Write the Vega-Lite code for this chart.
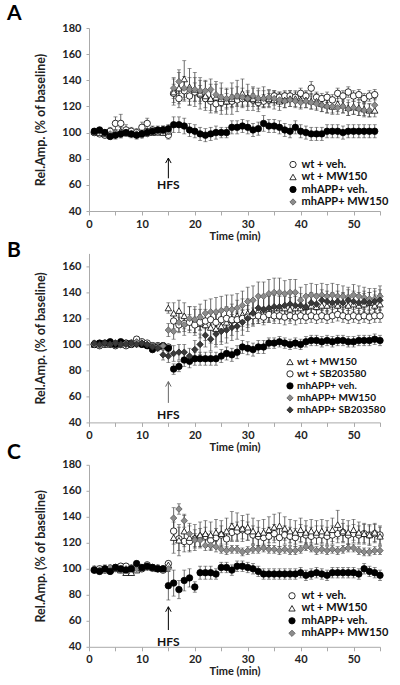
{
"$schema":"https://vega.github.io/schema/vega-lite/v6.json",
"background":"white",
"padding":{"left":7,"top":3,"right":0,"bottom":0},
"config":{
 "font":"Lato",
 "view":{"stroke":null},
 "axis":{"grid":false,"domainColor":"#aaaaaa","tickColor":"#aaaaaa","labelColor":"#222222","titleColor":"#222222","labelFont":"Lato","titleFont":"Lato","labelFontWeight":"bold","titleFontWeight":"bold","labelFontSize":11,"titleFontSize":12.5,"labelOverlap":false},
 "axisX":{"tickSize":4,"labelPadding":3,"titlePadding":1,"labelFlush":false,"titleFontSize":11},
 "axisY":{"tickSize":3,"labelPadding":5,"titlePadding":14},
 "legend":{"labelFont":"Lato","labelFontWeight":"bold","labelColor":"#111111","symbolSize":40,"symbolStrokeWidth":0.8,"labelOffset":3,"padding":0},
 "title":{"font":"Lato","fontSize":21,"fontWeight":"bold","anchor":"start","frame":"group","color":"#000000","offset":4}
},
"datasets":{
"dA":[
{"s":"wt + veh.","t":1,"v":100,"e":2},{"s":"wt + veh.","t":2,"v":99,"e":2},{"s":"wt + veh.","t":3,"v":98,"e":2},{"s":"wt + veh.","t":4,"v":101,"e":3},{"s":"wt + veh.","t":5,"v":107,"e":5},{"s":"wt + veh.","t":6,"v":107,"e":7},{"s":"wt + veh.","t":7,"v":102,"e":4},{"s":"wt + veh.","t":8,"v":101,"e":3},{"s":"wt + veh.","t":9,"v":100,"e":3},{"s":"wt + veh.","t":10,"v":104,"e":4},{"s":"wt + veh.","t":11,"v":107,"e":4},{"s":"wt + veh.","t":12,"v":102,"e":3},{"s":"wt + veh.","t":13,"v":101,"e":3},{"s":"wt + veh.","t":14,"v":102,"e":3},{"s":"wt + veh.","t":15,"v":98,"e":3},{"s":"wt + veh.","t":16,"v":130,"e":7},{"s":"wt + veh.","t":17,"v":126,"e":7},{"s":"wt + veh.","t":18,"v":132,"e":8},{"s":"wt + veh.","t":19,"v":128,"e":7},{"s":"wt + veh.","t":20,"v":131,"e":7},{"s":"wt + veh.","t":21,"v":129,"e":7},{"s":"wt + veh.","t":22,"v":126,"e":7},{"s":"wt + veh.","t":23,"v":124,"e":7},{"s":"wt + veh.","t":24,"v":122,"e":6},{"s":"wt + veh.","t":25,"v":123,"e":6},{"s":"wt + veh.","t":26,"v":124,"e":6},{"s":"wt + veh.","t":27,"v":124,"e":5},{"s":"wt + veh.","t":28,"v":125,"e":5},{"s":"wt + veh.","t":29,"v":126,"e":5},{"s":"wt + veh.","t":30,"v":126,"e":5},{"s":"wt + veh.","t":31,"v":125,"e":5},{"s":"wt + veh.","t":32,"v":123,"e":5},{"s":"wt + veh.","t":33,"v":124,"e":5},{"s":"wt + veh.","t":34,"v":125,"e":5},{"s":"wt + veh.","t":35,"v":128,"e":4},{"s":"wt + veh.","t":36,"v":127,"e":4},{"s":"wt + veh.","t":37,"v":128,"e":4},{"s":"wt + veh.","t":38,"v":128,"e":4},{"s":"wt + veh.","t":39,"v":127,"e":4},{"s":"wt + veh.","t":40,"v":130,"e":4},{"s":"wt + veh.","t":41,"v":128,"e":4},{"s":"wt + veh.","t":42,"v":134,"e":5},{"s":"wt + veh.","t":43,"v":127,"e":4},{"s":"wt + veh.","t":44,"v":126,"e":4},{"s":"wt + veh.","t":45,"v":127,"e":4},{"s":"wt + veh.","t":46,"v":125,"e":4},{"s":"wt + veh.","t":47,"v":130,"e":4},{"s":"wt + veh.","t":48,"v":128,"e":4},{"s":"wt + veh.","t":49,"v":131,"e":4},{"s":"wt + veh.","t":50,"v":128,"e":4},{"s":"wt + veh.","t":51,"v":129,"e":4},{"s":"wt + veh.","t":52,"v":126,"e":4},{"s":"wt + veh.","t":53,"v":128,"e":4},{"s":"wt + veh.","t":54,"v":129,"e":4},
{"s":"wt + MW150","t":1,"v":101,"e":2},{"s":"wt + MW150","t":2,"v":100,"e":2},{"s":"wt + MW150","t":3,"v":99,"e":2},{"s":"wt + MW150","t":4,"v":98,"e":2},{"s":"wt + MW150","t":5,"v":100,"e":2},{"s":"wt + MW150","t":6,"v":101,"e":3},{"s":"wt + MW150","t":7,"v":100,"e":2},{"s":"wt + MW150","t":8,"v":99,"e":2},{"s":"wt + MW150","t":9,"v":99,"e":2},{"s":"wt + MW150","t":10,"v":100,"e":2},{"s":"wt + MW150","t":11,"v":101,"e":2},{"s":"wt + MW150","t":12,"v":100,"e":2},{"s":"wt + MW150","t":13,"v":101,"e":2},{"s":"wt + MW150","t":14,"v":100,"e":2},{"s":"wt + MW150","t":15,"v":101,"e":2},{"s":"wt + MW150","t":16,"v":131,"e":10},{"s":"wt + MW150","t":17,"v":134,"e":12},{"s":"wt + MW150","t":18,"v":141,"e":14},{"s":"wt + MW150","t":19,"v":135,"e":14},{"s":"wt + MW150","t":20,"v":133,"e":13},{"s":"wt + MW150","t":21,"v":130,"e":12},{"s":"wt + MW150","t":22,"v":128,"e":11},{"s":"wt + MW150","t":23,"v":126,"e":11},{"s":"wt + MW150","t":24,"v":127,"e":12},{"s":"wt + MW150","t":25,"v":126,"e":12},{"s":"wt + MW150","t":26,"v":124,"e":10},{"s":"wt + MW150","t":27,"v":126,"e":12},{"s":"wt + MW150","t":28,"v":128,"e":12},{"s":"wt + MW150","t":29,"v":130,"e":11},{"s":"wt + MW150","t":30,"v":127,"e":10},{"s":"wt + MW150","t":31,"v":126,"e":9},{"s":"wt + MW150","t":32,"v":125,"e":9},{"s":"wt + MW150","t":33,"v":127,"e":8},{"s":"wt + MW150","t":34,"v":126,"e":7},{"s":"wt + MW150","t":35,"v":125,"e":7},{"s":"wt + MW150","t":36,"v":124,"e":7},{"s":"wt + MW150","t":37,"v":125,"e":6},{"s":"wt + MW150","t":38,"v":126,"e":6},{"s":"wt + MW150","t":39,"v":126,"e":6},{"s":"wt + MW150","t":40,"v":125,"e":6},{"s":"wt + MW150","t":41,"v":125,"e":6},{"s":"wt + MW150","t":42,"v":124,"e":6},{"s":"wt + MW150","t":43,"v":124,"e":6},{"s":"wt + MW150","t":44,"v":122,"e":6},{"s":"wt + MW150","t":45,"v":121,"e":6},{"s":"wt + MW150","t":46,"v":120,"e":6},{"s":"wt + MW150","t":47,"v":122,"e":6},{"s":"wt + MW150","t":48,"v":121,"e":6},{"s":"wt + MW150","t":49,"v":119,"e":6},{"s":"wt + MW150","t":50,"v":120,"e":6},{"s":"wt + MW150","t":51,"v":119,"e":6},{"s":"wt + MW150","t":52,"v":118,"e":5},{"s":"wt + MW150","t":53,"v":117,"e":5},{"s":"wt + MW150","t":54,"v":117,"e":5},
{"s":"mhAPP+ MW150","t":1,"v":100,"e":2},{"s":"mhAPP+ MW150","t":2,"v":101,"e":2},{"s":"mhAPP+ MW150","t":3,"v":100,"e":2},{"s":"mhAPP+ MW150","t":4,"v":99,"e":2},{"s":"mhAPP+ MW150","t":5,"v":100,"e":2},{"s":"mhAPP+ MW150","t":6,"v":99,"e":3},{"s":"mhAPP+ MW150","t":7,"v":100,"e":2},{"s":"mhAPP+ MW150","t":8,"v":99,"e":2},{"s":"mhAPP+ MW150","t":9,"v":99,"e":2},{"s":"mhAPP+ MW150","t":10,"v":98,"e":2},{"s":"mhAPP+ MW150","t":11,"v":99,"e":2},{"s":"mhAPP+ MW150","t":12,"v":100,"e":2},{"s":"mhAPP+ MW150","t":13,"v":100,"e":2},{"s":"mhAPP+ MW150","t":14,"v":101,"e":2},{"s":"mhAPP+ MW150","t":15,"v":101,"e":2},{"s":"mhAPP+ MW150","t":16,"v":134,"e":8},{"s":"mhAPP+ MW150","t":17,"v":139,"e":9},{"s":"mhAPP+ MW150","t":18,"v":134,"e":9},{"s":"mhAPP+ MW150","t":19,"v":133,"e":9},{"s":"mhAPP+ MW150","t":20,"v":133,"e":9},{"s":"mhAPP+ MW150","t":21,"v":132,"e":8},{"s":"mhAPP+ MW150","t":22,"v":132,"e":8},{"s":"mhAPP+ MW150","t":23,"v":133,"e":8},{"s":"mhAPP+ MW150","t":24,"v":129,"e":8},{"s":"mhAPP+ MW150","t":25,"v":127,"e":7},{"s":"mhAPP+ MW150","t":26,"v":126,"e":7},{"s":"mhAPP+ MW150","t":27,"v":127,"e":7},{"s":"mhAPP+ MW150","t":28,"v":128,"e":7},{"s":"mhAPP+ MW150","t":29,"v":127,"e":7},{"s":"mhAPP+ MW150","t":30,"v":126,"e":6},{"s":"mhAPP+ MW150","t":31,"v":128,"e":6},{"s":"mhAPP+ MW150","t":32,"v":126,"e":6},{"s":"mhAPP+ MW150","t":33,"v":126,"e":6},{"s":"mhAPP+ MW150","t":34,"v":127,"e":5},{"s":"mhAPP+ MW150","t":35,"v":126,"e":5},{"s":"mhAPP+ MW150","t":36,"v":125,"e":5},{"s":"mhAPP+ MW150","t":37,"v":124,"e":5},{"s":"mhAPP+ MW150","t":38,"v":125,"e":5},{"s":"mhAPP+ MW150","t":39,"v":124,"e":5},{"s":"mhAPP+ MW150","t":40,"v":123,"e":5},{"s":"mhAPP+ MW150","t":41,"v":124,"e":5},{"s":"mhAPP+ MW150","t":42,"v":123,"e":5},{"s":"mhAPP+ MW150","t":43,"v":122,"e":5},{"s":"mhAPP+ MW150","t":44,"v":121,"e":5},{"s":"mhAPP+ MW150","t":45,"v":120,"e":5},{"s":"mhAPP+ MW150","t":46,"v":120,"e":5},{"s":"mhAPP+ MW150","t":47,"v":119,"e":5},{"s":"mhAPP+ MW150","t":48,"v":120,"e":5},{"s":"mhAPP+ MW150","t":49,"v":118,"e":5},{"s":"mhAPP+ MW150","t":50,"v":119,"e":5},{"s":"mhAPP+ MW150","t":51,"v":118,"e":5},{"s":"mhAPP+ MW150","t":52,"v":117,"e":5},{"s":"mhAPP+ MW150","t":53,"v":117,"e":5},{"s":"mhAPP+ MW150","t":54,"v":121,"e":5},
{"s":"mhAPP+ veh.","t":1,"v":101,"e":2},{"s":"mhAPP+ veh.","t":2,"v":102,"e":2},{"s":"mhAPP+ veh.","t":3,"v":100,"e":2},{"s":"mhAPP+ veh.","t":4,"v":97,"e":2},{"s":"mhAPP+ veh.","t":5,"v":98,"e":3},{"s":"mhAPP+ veh.","t":6,"v":99,"e":3},{"s":"mhAPP+ veh.","t":7,"v":100,"e":3},{"s":"mhAPP+ veh.","t":8,"v":99,"e":3},{"s":"mhAPP+ veh.","t":9,"v":98,"e":3},{"s":"mhAPP+ veh.","t":10,"v":99,"e":3},{"s":"mhAPP+ veh.","t":11,"v":100,"e":3},{"s":"mhAPP+ veh.","t":12,"v":101,"e":3},{"s":"mhAPP+ veh.","t":13,"v":102,"e":3},{"s":"mhAPP+ veh.","t":14,"v":102,"e":3},{"s":"mhAPP+ veh.","t":15,"v":103,"e":3},{"s":"mhAPP+ veh.","t":16,"v":106,"e":6},{"s":"mhAPP+ veh.","t":17,"v":106,"e":6},{"s":"mhAPP+ veh.","t":18,"v":105,"e":6},{"s":"mhAPP+ veh.","t":19,"v":102,"e":5},{"s":"mhAPP+ veh.","t":20,"v":101,"e":5},{"s":"mhAPP+ veh.","t":21,"v":99,"e":5},{"s":"mhAPP+ veh.","t":22,"v":98,"e":5},{"s":"mhAPP+ veh.","t":23,"v":99,"e":5},{"s":"mhAPP+ veh.","t":24,"v":100,"e":5},{"s":"mhAPP+ veh.","t":25,"v":100,"e":4},{"s":"mhAPP+ veh.","t":26,"v":100,"e":4},{"s":"mhAPP+ veh.","t":27,"v":104,"e":5},{"s":"mhAPP+ veh.","t":28,"v":104,"e":5},{"s":"mhAPP+ veh.","t":29,"v":105,"e":5},{"s":"mhAPP+ veh.","t":30,"v":104,"e":5},{"s":"mhAPP+ veh.","t":31,"v":102,"e":5},{"s":"mhAPP+ veh.","t":32,"v":103,"e":5},{"s":"mhAPP+ veh.","t":33,"v":107,"e":6},{"s":"mhAPP+ veh.","t":34,"v":105,"e":5},{"s":"mhAPP+ veh.","t":35,"v":105,"e":5},{"s":"mhAPP+ veh.","t":36,"v":104,"e":5},{"s":"mhAPP+ veh.","t":37,"v":102,"e":5},{"s":"mhAPP+ veh.","t":38,"v":101,"e":5},{"s":"mhAPP+ veh.","t":39,"v":104,"e":5},{"s":"mhAPP+ veh.","t":40,"v":101,"e":5},{"s":"mhAPP+ veh.","t":41,"v":100,"e":5},{"s":"mhAPP+ veh.","t":42,"v":99,"e":5},{"s":"mhAPP+ veh.","t":43,"v":99,"e":5},{"s":"mhAPP+ veh.","t":44,"v":99,"e":5},{"s":"mhAPP+ veh.","t":45,"v":101,"e":5},{"s":"mhAPP+ veh.","t":46,"v":101,"e":5},{"s":"mhAPP+ veh.","t":47,"v":101,"e":5},{"s":"mhAPP+ veh.","t":48,"v":100,"e":5},{"s":"mhAPP+ veh.","t":49,"v":101,"e":5},{"s":"mhAPP+ veh.","t":50,"v":101,"e":5},{"s":"mhAPP+ veh.","t":51,"v":101,"e":5},{"s":"mhAPP+ veh.","t":52,"v":101,"e":5},{"s":"mhAPP+ veh.","t":53,"v":101,"e":5},{"s":"mhAPP+ veh.","t":54,"v":101,"e":5}
],
"dB":[
{"s":"wt + MW150","t":1,"v":100,"e":2},{"s":"wt + MW150","t":2,"v":101,"e":2},{"s":"wt + MW150","t":3,"v":100,"e":2},{"s":"wt + MW150","t":4,"v":101,"e":2},{"s":"wt + MW150","t":5,"v":100,"e":2},{"s":"wt + MW150","t":6,"v":101,"e":2},{"s":"wt + MW150","t":7,"v":100,"e":2},{"s":"wt + MW150","t":8,"v":101,"e":2},{"s":"wt + MW150","t":9,"v":102,"e":2},{"s":"wt + MW150","t":10,"v":101,"e":2},{"s":"wt + MW150","t":11,"v":100,"e":2},{"s":"wt + MW150","t":12,"v":99,"e":2},{"s":"wt + MW150","t":13,"v":99,"e":2},{"s":"wt + MW150","t":14,"v":99,"e":2},{"s":"wt + MW150","t":15,"v":128,"e":4},{"s":"wt + MW150","t":16,"v":124,"e":8},{"s":"wt + MW150","t":17,"v":126,"e":8},{"s":"wt + MW150","t":18,"v":122,"e":10},{"s":"wt + MW150","t":19,"v":119,"e":10},{"s":"wt + MW150","t":20,"v":117,"e":10},{"s":"wt + MW150","t":21,"v":116,"e":11},{"s":"wt + MW150","t":22,"v":115,"e":12},{"s":"wt + MW150","t":23,"v":113,"e":12},{"s":"wt + MW150","t":24,"v":112,"e":12},{"s":"wt + MW150","t":25,"v":114,"e":12},{"s":"wt + MW150","t":26,"v":117,"e":12},{"s":"wt + MW150","t":27,"v":119,"e":12},{"s":"wt + MW150","t":28,"v":122,"e":12},{"s":"wt + MW150","t":29,"v":123,"e":12},{"s":"wt + MW150","t":30,"v":124,"e":11},{"s":"wt + MW150","t":31,"v":125,"e":10},{"s":"wt + MW150","t":32,"v":126,"e":10},{"s":"wt + MW150","t":33,"v":127,"e":10},{"s":"wt + MW150","t":34,"v":127,"e":10},{"s":"wt + MW150","t":35,"v":128,"e":10},{"s":"wt + MW150","t":36,"v":128,"e":9},{"s":"wt + MW150","t":37,"v":128,"e":9},{"s":"wt + MW150","t":38,"v":127,"e":9},{"s":"wt + MW150","t":39,"v":128,"e":9},{"s":"wt + MW150","t":40,"v":128,"e":8},{"s":"wt + MW150","t":41,"v":129,"e":8},{"s":"wt + MW150","t":42,"v":130,"e":8},{"s":"wt + MW150","t":43,"v":129,"e":8},{"s":"wt + MW150","t":44,"v":130,"e":8},{"s":"wt + MW150","t":45,"v":130,"e":8},{"s":"wt + MW150","t":46,"v":131,"e":8},{"s":"wt + MW150","t":47,"v":130,"e":8},{"s":"wt + MW150","t":48,"v":131,"e":8},{"s":"wt + MW150","t":49,"v":130,"e":8},{"s":"wt + MW150","t":50,"v":131,"e":8},{"s":"wt + MW150","t":51,"v":130,"e":8},{"s":"wt + MW150","t":52,"v":131,"e":8},{"s":"wt + MW150","t":53,"v":132,"e":8},{"s":"wt + MW150","t":54,"v":130,"e":8},{"s":"wt + MW150","t":55,"v":131,"e":8},
{"s":"wt + SB203580","t":1,"v":100,"e":2},{"s":"wt + SB203580","t":2,"v":99,"e":2},{"s":"wt + SB203580","t":3,"v":100,"e":2},{"s":"wt + SB203580","t":4,"v":100,"e":2},{"s":"wt + SB203580","t":5,"v":99,"e":2},{"s":"wt + SB203580","t":6,"v":100,"e":2},{"s":"wt + SB203580","t":7,"v":99,"e":2},{"s":"wt + SB203580","t":8,"v":101,"e":2},{"s":"wt + SB203580","t":9,"v":104,"e":2},{"s":"wt + SB203580","t":10,"v":102,"e":2},{"s":"wt + SB203580","t":11,"v":101,"e":2},{"s":"wt + SB203580","t":12,"v":99,"e":2},{"s":"wt + SB203580","t":13,"v":99,"e":2},{"s":"wt + SB203580","t":14,"v":98,"e":2},{"s":"wt + SB203580","t":15,"v":98,"e":2},{"s":"wt + SB203580","t":16,"v":118,"e":6},{"s":"wt + SB203580","t":17,"v":115,"e":6},{"s":"wt + SB203580","t":18,"v":116,"e":6},{"s":"wt + SB203580","t":19,"v":117,"e":6},{"s":"wt + SB203580","t":20,"v":115,"e":6},{"s":"wt + SB203580","t":21,"v":117,"e":6},{"s":"wt + SB203580","t":22,"v":118,"e":6},{"s":"wt + SB203580","t":23,"v":119,"e":6},{"s":"wt + SB203580","t":24,"v":117,"e":6},{"s":"wt + SB203580","t":25,"v":119,"e":6},{"s":"wt + SB203580","t":26,"v":120,"e":6},{"s":"wt + SB203580","t":27,"v":119,"e":6},{"s":"wt + SB203580","t":28,"v":119,"e":6},{"s":"wt + SB203580","t":29,"v":120,"e":6},{"s":"wt + SB203580","t":30,"v":121,"e":6},{"s":"wt + SB203580","t":31,"v":122,"e":6},{"s":"wt + SB203580","t":32,"v":122,"e":6},{"s":"wt + SB203580","t":33,"v":121,"e":6},{"s":"wt + SB203580","t":34,"v":123,"e":6},{"s":"wt + SB203580","t":35,"v":122,"e":6},{"s":"wt + SB203580","t":36,"v":122,"e":6},{"s":"wt + SB203580","t":37,"v":121,"e":6},{"s":"wt + SB203580","t":38,"v":122,"e":6},{"s":"wt + SB203580","t":39,"v":121,"e":6},{"s":"wt + SB203580","t":40,"v":122,"e":6},{"s":"wt + SB203580","t":41,"v":121,"e":5},{"s":"wt + SB203580","t":42,"v":122,"e":5},{"s":"wt + SB203580","t":43,"v":121,"e":5},{"s":"wt + SB203580","t":44,"v":122,"e":5},{"s":"wt + SB203580","t":45,"v":121,"e":5},{"s":"wt + SB203580","t":46,"v":122,"e":5},{"s":"wt + SB203580","t":47,"v":123,"e":5},{"s":"wt + SB203580","t":48,"v":122,"e":5},{"s":"wt + SB203580","t":49,"v":121,"e":5},{"s":"wt + SB203580","t":50,"v":122,"e":5},{"s":"wt + SB203580","t":51,"v":121,"e":5},{"s":"wt + SB203580","t":52,"v":122,"e":5},{"s":"wt + SB203580","t":53,"v":121,"e":5},{"s":"wt + SB203580","t":54,"v":122,"e":5},{"s":"wt + SB203580","t":55,"v":122,"e":5},
{"s":"mhAPP+ veh.","t":1,"v":100,"e":2},{"s":"mhAPP+ veh.","t":2,"v":101,"e":2},{"s":"mhAPP+ veh.","t":3,"v":101,"e":2},{"s":"mhAPP+ veh.","t":4,"v":102,"e":2},{"s":"mhAPP+ veh.","t":5,"v":100,"e":2},{"s":"mhAPP+ veh.","t":6,"v":102,"e":2},{"s":"mhAPP+ veh.","t":7,"v":101,"e":2},{"s":"mhAPP+ veh.","t":8,"v":100,"e":2},{"s":"mhAPP+ veh.","t":9,"v":101,"e":2},{"s":"mhAPP+ veh.","t":10,"v":100,"e":2},{"s":"mhAPP+ veh.","t":11,"v":99,"e":2},{"s":"mhAPP+ veh.","t":12,"v":96,"e":2},{"s":"mhAPP+ veh.","t":13,"v":98,"e":2},{"s":"mhAPP+ veh.","t":14,"v":99,"e":2},{"s":"mhAPP+ veh.","t":15,"v":97,"e":3},{"s":"mhAPP+ veh.","t":16,"v":81,"e":4},{"s":"mhAPP+ veh.","t":17,"v":83,"e":4},{"s":"mhAPP+ veh.","t":18,"v":88,"e":5},{"s":"mhAPP+ veh.","t":19,"v":87,"e":5},{"s":"mhAPP+ veh.","t":20,"v":89,"e":5},{"s":"mhAPP+ veh.","t":21,"v":89,"e":5},{"s":"mhAPP+ veh.","t":22,"v":89,"e":5},{"s":"mhAPP+ veh.","t":23,"v":89,"e":5},{"s":"mhAPP+ veh.","t":24,"v":89,"e":5},{"s":"mhAPP+ veh.","t":25,"v":91,"e":5},{"s":"mhAPP+ veh.","t":26,"v":93,"e":5},{"s":"mhAPP+ veh.","t":27,"v":92,"e":5},{"s":"mhAPP+ veh.","t":28,"v":94,"e":5},{"s":"mhAPP+ veh.","t":29,"v":98,"e":5},{"s":"mhAPP+ veh.","t":30,"v":97,"e":5},{"s":"mhAPP+ veh.","t":31,"v":96,"e":5},{"s":"mhAPP+ veh.","t":32,"v":98,"e":5},{"s":"mhAPP+ veh.","t":33,"v":98,"e":5},{"s":"mhAPP+ veh.","t":34,"v":101,"e":4},{"s":"mhAPP+ veh.","t":35,"v":101,"e":4},{"s":"mhAPP+ veh.","t":36,"v":102,"e":4},{"s":"mhAPP+ veh.","t":37,"v":101,"e":4},{"s":"mhAPP+ veh.","t":38,"v":100,"e":4},{"s":"mhAPP+ veh.","t":39,"v":101,"e":4},{"s":"mhAPP+ veh.","t":40,"v":100,"e":4},{"s":"mhAPP+ veh.","t":41,"v":102,"e":4},{"s":"mhAPP+ veh.","t":42,"v":103,"e":4},{"s":"mhAPP+ veh.","t":43,"v":103,"e":4},{"s":"mhAPP+ veh.","t":44,"v":102,"e":4},{"s":"mhAPP+ veh.","t":45,"v":103,"e":4},{"s":"mhAPP+ veh.","t":46,"v":102,"e":4},{"s":"mhAPP+ veh.","t":47,"v":103,"e":4},{"s":"mhAPP+ veh.","t":48,"v":103,"e":4},{"s":"mhAPP+ veh.","t":49,"v":102,"e":4},{"s":"mhAPP+ veh.","t":50,"v":102,"e":4},{"s":"mhAPP+ veh.","t":51,"v":103,"e":4},{"s":"mhAPP+ veh.","t":52,"v":103,"e":4},{"s":"mhAPP+ veh.","t":53,"v":103,"e":4},{"s":"mhAPP+ veh.","t":54,"v":104,"e":4},{"s":"mhAPP+ veh.","t":55,"v":103,"e":4},
{"s":"mhAPP+ MW150","t":1,"v":100,"e":2},{"s":"mhAPP+ MW150","t":2,"v":99,"e":2},{"s":"mhAPP+ MW150","t":3,"v":101,"e":2},{"s":"mhAPP+ MW150","t":4,"v":100,"e":2},{"s":"mhAPP+ MW150","t":5,"v":101,"e":2},{"s":"mhAPP+ MW150","t":6,"v":100,"e":2},{"s":"mhAPP+ MW150","t":7,"v":101,"e":2},{"s":"mhAPP+ MW150","t":8,"v":100,"e":2},{"s":"mhAPP+ MW150","t":9,"v":102,"e":2},{"s":"mhAPP+ MW150","t":10,"v":101,"e":2},{"s":"mhAPP+ MW150","t":11,"v":100,"e":2},{"s":"mhAPP+ MW150","t":12,"v":99,"e":2},{"s":"mhAPP+ MW150","t":13,"v":98,"e":2},{"s":"mhAPP+ MW150","t":14,"v":99,"e":2},{"s":"mhAPP+ MW150","t":15,"v":111,"e":5},{"s":"mhAPP+ MW150","t":16,"v":110,"e":6},{"s":"mhAPP+ MW150","t":17,"v":117,"e":7},{"s":"mhAPP+ MW150","t":18,"v":115,"e":8},{"s":"mhAPP+ MW150","t":19,"v":120,"e":9},{"s":"mhAPP+ MW150","t":20,"v":119,"e":10},{"s":"mhAPP+ MW150","t":21,"v":121,"e":10},{"s":"mhAPP+ MW150","t":22,"v":124,"e":10},{"s":"mhAPP+ MW150","t":23,"v":125,"e":10},{"s":"mhAPP+ MW150","t":24,"v":125,"e":11},{"s":"mhAPP+ MW150","t":25,"v":126,"e":11},{"s":"mhAPP+ MW150","t":26,"v":127,"e":11},{"s":"mhAPP+ MW150","t":27,"v":127,"e":11},{"s":"mhAPP+ MW150","t":28,"v":128,"e":11},{"s":"mhAPP+ MW150","t":29,"v":130,"e":11},{"s":"mhAPP+ MW150","t":30,"v":133,"e":11},{"s":"mhAPP+ MW150","t":31,"v":134,"e":11},{"s":"mhAPP+ MW150","t":32,"v":137,"e":11},{"s":"mhAPP+ MW150","t":33,"v":137,"e":11},{"s":"mhAPP+ MW150","t":34,"v":139,"e":11},{"s":"mhAPP+ MW150","t":35,"v":140,"e":11},{"s":"mhAPP+ MW150","t":36,"v":140,"e":11},{"s":"mhAPP+ MW150","t":37,"v":139,"e":10},{"s":"mhAPP+ MW150","t":38,"v":140,"e":10},{"s":"mhAPP+ MW150","t":39,"v":140,"e":10},{"s":"mhAPP+ MW150","t":40,"v":134,"e":10},{"s":"mhAPP+ MW150","t":41,"v":137,"e":9},{"s":"mhAPP+ MW150","t":42,"v":138,"e":9},{"s":"mhAPP+ MW150","t":43,"v":137,"e":9},{"s":"mhAPP+ MW150","t":44,"v":138,"e":9},{"s":"mhAPP+ MW150","t":45,"v":137,"e":9},{"s":"mhAPP+ MW150","t":46,"v":138,"e":9},{"s":"mhAPP+ MW150","t":47,"v":137,"e":9},{"s":"mhAPP+ MW150","t":48,"v":137,"e":8},{"s":"mhAPP+ MW150","t":49,"v":136,"e":8},{"s":"mhAPP+ MW150","t":50,"v":138,"e":8},{"s":"mhAPP+ MW150","t":51,"v":137,"e":8},{"s":"mhAPP+ MW150","t":52,"v":136,"e":8},{"s":"mhAPP+ MW150","t":53,"v":135,"e":8},{"s":"mhAPP+ MW150","t":54,"v":135,"e":8},{"s":"mhAPP+ MW150","t":55,"v":137,"e":8},
{"s":"mhAPP+ SB203580","t":1,"v":101,"e":2},{"s":"mhAPP+ SB203580","t":2,"v":100,"e":2},{"s":"mhAPP+ SB203580","t":3,"v":101,"e":2},{"s":"mhAPP+ SB203580","t":4,"v":100,"e":2},{"s":"mhAPP+ SB203580","t":5,"v":101,"e":2},{"s":"mhAPP+ SB203580","t":6,"v":100,"e":2},{"s":"mhAPP+ SB203580","t":7,"v":100,"e":2},{"s":"mhAPP+ SB203580","t":8,"v":101,"e":2},{"s":"mhAPP+ SB203580","t":9,"v":100,"e":2},{"s":"mhAPP+ SB203580","t":10,"v":101,"e":2},{"s":"mhAPP+ SB203580","t":11,"v":100,"e":2},{"s":"mhAPP+ SB203580","t":12,"v":98,"e":2},{"s":"mhAPP+ SB203580","t":13,"v":97,"e":2},{"s":"mhAPP+ SB203580","t":14,"v":92,"e":4},{"s":"mhAPP+ SB203580","t":15,"v":91,"e":5},{"s":"mhAPP+ SB203580","t":16,"v":93,"e":6},{"s":"mhAPP+ SB203580","t":17,"v":94,"e":6},{"s":"mhAPP+ SB203580","t":18,"v":94,"e":6},{"s":"mhAPP+ SB203580","t":19,"v":91,"e":6},{"s":"mhAPP+ SB203580","t":20,"v":96,"e":7},{"s":"mhAPP+ SB203580","t":21,"v":100,"e":8},{"s":"mhAPP+ SB203580","t":22,"v":107,"e":9},{"s":"mhAPP+ SB203580","t":23,"v":104,"e":9},{"s":"mhAPP+ SB203580","t":24,"v":108,"e":10},{"s":"mhAPP+ SB203580","t":25,"v":110,"e":10},{"s":"mhAPP+ SB203580","t":26,"v":111,"e":10},{"s":"mhAPP+ SB203580","t":27,"v":113,"e":10},{"s":"mhAPP+ SB203580","t":28,"v":114,"e":10},{"s":"mhAPP+ SB203580","t":29,"v":117,"e":10},{"s":"mhAPP+ SB203580","t":30,"v":120,"e":10},{"s":"mhAPP+ SB203580","t":31,"v":124,"e":10},{"s":"mhAPP+ SB203580","t":32,"v":128,"e":10},{"s":"mhAPP+ SB203580","t":33,"v":127,"e":10},{"s":"mhAPP+ SB203580","t":34,"v":128,"e":10},{"s":"mhAPP+ SB203580","t":35,"v":129,"e":9},{"s":"mhAPP+ SB203580","t":36,"v":129,"e":9},{"s":"mhAPP+ SB203580","t":37,"v":130,"e":9},{"s":"mhAPP+ SB203580","t":38,"v":131,"e":9},{"s":"mhAPP+ SB203580","t":39,"v":130,"e":9},{"s":"mhAPP+ SB203580","t":40,"v":130,"e":9},{"s":"mhAPP+ SB203580","t":41,"v":129,"e":8},{"s":"mhAPP+ SB203580","t":42,"v":132,"e":8},{"s":"mhAPP+ SB203580","t":43,"v":131,"e":8},{"s":"mhAPP+ SB203580","t":44,"v":134,"e":8},{"s":"mhAPP+ SB203580","t":45,"v":133,"e":8},{"s":"mhAPP+ SB203580","t":46,"v":132,"e":8},{"s":"mhAPP+ SB203580","t":47,"v":133,"e":8},{"s":"mhAPP+ SB203580","t":48,"v":132,"e":8},{"s":"mhAPP+ SB203580","t":49,"v":134,"e":8},{"s":"mhAPP+ SB203580","t":50,"v":133,"e":8},{"s":"mhAPP+ SB203580","t":51,"v":132,"e":8},{"s":"mhAPP+ SB203580","t":52,"v":133,"e":8},{"s":"mhAPP+ SB203580","t":53,"v":132,"e":8},{"s":"mhAPP+ SB203580","t":54,"v":133,"e":8},{"s":"mhAPP+ SB203580","t":55,"v":134,"e":8}
],
"dC":[
{"s":"wt + veh.","t":1,"v":99,"e":2},{"s":"wt + veh.","t":2,"v":100,"e":2},{"s":"wt + veh.","t":3,"v":99,"e":2},{"s":"wt + veh.","t":4,"v":100,"e":2},{"s":"wt + veh.","t":5,"v":101,"e":2},{"s":"wt + veh.","t":6,"v":102,"e":2},{"s":"wt + veh.","t":7,"v":102,"e":2},{"s":"wt + veh.","t":8,"v":100,"e":2},{"s":"wt + veh.","t":9,"v":101,"e":2},{"s":"wt + veh.","t":10,"v":100,"e":2},{"s":"wt + veh.","t":11,"v":103,"e":2},{"s":"wt + veh.","t":12,"v":101,"e":2},{"s":"wt + veh.","t":13,"v":100,"e":2},{"s":"wt + veh.","t":14,"v":99,"e":2},{"s":"wt + veh.","t":15,"v":104,"e":2},{"s":"wt + veh.","t":16,"v":129,"e":10},{"s":"wt + veh.","t":17,"v":123,"e":9},{"s":"wt + veh.","t":18,"v":121,"e":8},{"s":"wt + veh.","t":19,"v":121,"e":7},{"s":"wt + veh.","t":20,"v":123,"e":7},{"s":"wt + veh.","t":21,"v":124,"e":7},{"s":"wt + veh.","t":22,"v":125,"e":7},{"s":"wt + veh.","t":23,"v":122,"e":7},{"s":"wt + veh.","t":24,"v":124,"e":7},{"s":"wt + veh.","t":25,"v":126,"e":7},{"s":"wt + veh.","t":26,"v":123,"e":7},{"s":"wt + veh.","t":27,"v":128,"e":7},{"s":"wt + veh.","t":28,"v":129,"e":7},{"s":"wt + veh.","t":29,"v":130,"e":7},{"s":"wt + veh.","t":30,"v":129,"e":7},{"s":"wt + veh.","t":31,"v":126,"e":7},{"s":"wt + veh.","t":32,"v":125,"e":7},{"s":"wt + veh.","t":33,"v":124,"e":7},{"s":"wt + veh.","t":34,"v":125,"e":7},{"s":"wt + veh.","t":35,"v":127,"e":7},{"s":"wt + veh.","t":36,"v":124,"e":7},{"s":"wt + veh.","t":37,"v":126,"e":7},{"s":"wt + veh.","t":38,"v":125,"e":7},{"s":"wt + veh.","t":39,"v":124,"e":7},{"s":"wt + veh.","t":40,"v":127,"e":7},{"s":"wt + veh.","t":41,"v":126,"e":7},{"s":"wt + veh.","t":42,"v":125,"e":7},{"s":"wt + veh.","t":43,"v":126,"e":7},{"s":"wt + veh.","t":44,"v":126,"e":7},{"s":"wt + veh.","t":45,"v":125,"e":7},{"s":"wt + veh.","t":46,"v":126,"e":7},{"s":"wt + veh.","t":47,"v":127,"e":7},{"s":"wt + veh.","t":48,"v":128,"e":7},{"s":"wt + veh.","t":49,"v":126,"e":7},{"s":"wt + veh.","t":50,"v":127,"e":7},{"s":"wt + veh.","t":51,"v":126,"e":7},{"s":"wt + veh.","t":52,"v":127,"e":7},{"s":"wt + veh.","t":53,"v":126,"e":7},{"s":"wt + veh.","t":54,"v":127,"e":7},{"s":"wt + veh.","t":55,"v":126,"e":7},
{"s":"wt + MW150","t":1,"v":100,"e":2},{"s":"wt + MW150","t":2,"v":99,"e":2},{"s":"wt + MW150","t":3,"v":100,"e":3},{"s":"wt + MW150","t":4,"v":99,"e":2},{"s":"wt + MW150","t":5,"v":100,"e":2},{"s":"wt + MW150","t":6,"v":99,"e":2},{"s":"wt + MW150","t":7,"v":97,"e":2},{"s":"wt + MW150","t":8,"v":97,"e":2},{"s":"wt + MW150","t":9,"v":99,"e":2},{"s":"wt + MW150","t":10,"v":101,"e":2},{"s":"wt + MW150","t":11,"v":102,"e":2},{"s":"wt + MW150","t":12,"v":101,"e":2},{"s":"wt + MW150","t":13,"v":100,"e":2},{"s":"wt + MW150","t":14,"v":100,"e":2},{"s":"wt + MW150","t":15,"v":103,"e":2},{"s":"wt + MW150","t":16,"v":124,"e":12},{"s":"wt + MW150","t":17,"v":122,"e":12},{"s":"wt + MW150","t":18,"v":129,"e":12},{"s":"wt + MW150","t":19,"v":124,"e":11},{"s":"wt + MW150","t":20,"v":124,"e":10},{"s":"wt + MW150","t":21,"v":126,"e":10},{"s":"wt + MW150","t":22,"v":127,"e":10},{"s":"wt + MW150","t":23,"v":126,"e":10},{"s":"wt + MW150","t":24,"v":128,"e":10},{"s":"wt + MW150","t":25,"v":127,"e":10},{"s":"wt + MW150","t":26,"v":129,"e":10},{"s":"wt + MW150","t":27,"v":133,"e":11},{"s":"wt + MW150","t":28,"v":132,"e":11},{"s":"wt + MW150","t":29,"v":131,"e":10},{"s":"wt + MW150","t":30,"v":132,"e":10},{"s":"wt + MW150","t":31,"v":129,"e":10},{"s":"wt + MW150","t":32,"v":127,"e":10},{"s":"wt + MW150","t":33,"v":128,"e":10},{"s":"wt + MW150","t":34,"v":130,"e":10},{"s":"wt + MW150","t":35,"v":132,"e":10},{"s":"wt + MW150","t":36,"v":133,"e":10},{"s":"wt + MW150","t":37,"v":131,"e":9},{"s":"wt + MW150","t":38,"v":129,"e":9},{"s":"wt + MW150","t":39,"v":128,"e":9},{"s":"wt + MW150","t":40,"v":130,"e":9},{"s":"wt + MW150","t":41,"v":128,"e":9},{"s":"wt + MW150","t":42,"v":129,"e":9},{"s":"wt + MW150","t":43,"v":128,"e":9},{"s":"wt + MW150","t":44,"v":129,"e":9},{"s":"wt + MW150","t":45,"v":128,"e":9},{"s":"wt + MW150","t":46,"v":130,"e":9},{"s":"wt + MW150","t":47,"v":134,"e":11},{"s":"wt + MW150","t":48,"v":129,"e":9},{"s":"wt + MW150","t":49,"v":128,"e":9},{"s":"wt + MW150","t":50,"v":130,"e":8},{"s":"wt + MW150","t":51,"v":128,"e":8},{"s":"wt + MW150","t":52,"v":127,"e":8},{"s":"wt + MW150","t":53,"v":126,"e":8},{"s":"wt + MW150","t":54,"v":128,"e":7},{"s":"wt + MW150","t":55,"v":125,"e":7},
{"s":"mhAPP+ MW150","t":1,"v":100,"e":2},{"s":"mhAPP+ MW150","t":2,"v":99,"e":2},{"s":"mhAPP+ MW150","t":3,"v":100,"e":2},{"s":"mhAPP+ MW150","t":4,"v":101,"e":2},{"s":"mhAPP+ MW150","t":5,"v":100,"e":2},{"s":"mhAPP+ MW150","t":6,"v":99,"e":2},{"s":"mhAPP+ MW150","t":7,"v":100,"e":2},{"s":"mhAPP+ MW150","t":8,"v":101,"e":2},{"s":"mhAPP+ MW150","t":9,"v":100,"e":2},{"s":"mhAPP+ MW150","t":10,"v":100,"e":2},{"s":"mhAPP+ MW150","t":11,"v":101,"e":2},{"s":"mhAPP+ MW150","t":12,"v":100,"e":2},{"s":"mhAPP+ MW150","t":13,"v":101,"e":2},{"s":"mhAPP+ MW150","t":14,"v":100,"e":2},{"s":"mhAPP+ MW150","t":15,"v":100,"e":2},{"s":"mhAPP+ MW150","t":16,"v":139,"e":8},{"s":"mhAPP+ MW150","t":17,"v":146,"e":4},{"s":"mhAPP+ MW150","t":18,"v":137,"e":5},{"s":"mhAPP+ MW150","t":19,"v":127,"e":6},{"s":"mhAPP+ MW150","t":20,"v":122,"e":5},{"s":"mhAPP+ MW150","t":21,"v":122,"e":5},{"s":"mhAPP+ MW150","t":22,"v":118,"e":4},{"s":"mhAPP+ MW150","t":23,"v":118,"e":4},{"s":"mhAPP+ MW150","t":24,"v":117,"e":4},{"s":"mhAPP+ MW150","t":25,"v":115,"e":3},{"s":"mhAPP+ MW150","t":26,"v":114,"e":3},{"s":"mhAPP+ MW150","t":27,"v":115,"e":3},{"s":"mhAPP+ MW150","t":28,"v":115,"e":3},{"s":"mhAPP+ MW150","t":29,"v":113,"e":3},{"s":"mhAPP+ MW150","t":30,"v":114,"e":3},{"s":"mhAPP+ MW150","t":31,"v":115,"e":3},{"s":"mhAPP+ MW150","t":32,"v":115,"e":3},{"s":"mhAPP+ MW150","t":33,"v":116,"e":3},{"s":"mhAPP+ MW150","t":34,"v":115,"e":3},{"s":"mhAPP+ MW150","t":35,"v":115,"e":3},{"s":"mhAPP+ MW150","t":36,"v":114,"e":3},{"s":"mhAPP+ MW150","t":37,"v":115,"e":3},{"s":"mhAPP+ MW150","t":38,"v":114,"e":3},{"s":"mhAPP+ MW150","t":39,"v":114,"e":3},{"s":"mhAPP+ MW150","t":40,"v":115,"e":3},{"s":"mhAPP+ MW150","t":41,"v":117,"e":3},{"s":"mhAPP+ MW150","t":42,"v":116,"e":3},{"s":"mhAPP+ MW150","t":43,"v":114,"e":3},{"s":"mhAPP+ MW150","t":44,"v":115,"e":3},{"s":"mhAPP+ MW150","t":45,"v":114,"e":3},{"s":"mhAPP+ MW150","t":46,"v":115,"e":3},{"s":"mhAPP+ MW150","t":47,"v":114,"e":3},{"s":"mhAPP+ MW150","t":48,"v":115,"e":3},{"s":"mhAPP+ MW150","t":49,"v":116,"e":3},{"s":"mhAPP+ MW150","t":50,"v":116,"e":3},{"s":"mhAPP+ MW150","t":51,"v":114,"e":3},{"s":"mhAPP+ MW150","t":52,"v":113,"e":3},{"s":"mhAPP+ MW150","t":53,"v":113,"e":3},{"s":"mhAPP+ MW150","t":54,"v":114,"e":3},{"s":"mhAPP+ MW150","t":55,"v":114,"e":3},
{"s":"mhAPP+ veh.","t":1,"v":99,"e":2},{"s":"mhAPP+ veh.","t":2,"v":98,"e":2},{"s":"mhAPP+ veh.","t":3,"v":100,"e":2},{"s":"mhAPP+ veh.","t":4,"v":98,"e":2},{"s":"mhAPP+ veh.","t":5,"v":101,"e":2},{"s":"mhAPP+ veh.","t":6,"v":100,"e":2},{"s":"mhAPP+ veh.","t":7,"v":99,"e":2},{"s":"mhAPP+ veh.","t":8,"v":100,"e":2},{"s":"mhAPP+ veh.","t":9,"v":104,"e":2},{"s":"mhAPP+ veh.","t":10,"v":101,"e":2},{"s":"mhAPP+ veh.","t":11,"v":102,"e":2},{"s":"mhAPP+ veh.","t":12,"v":101,"e":2},{"s":"mhAPP+ veh.","t":13,"v":100,"e":2},{"s":"mhAPP+ veh.","t":14,"v":100,"e":2},{"s":"mhAPP+ veh.","t":15,"v":87,"e":11},{"s":"mhAPP+ veh.","t":16,"v":89,"e":10},{"s":"mhAPP+ veh.","t":17,"v":84,"e":7},{"s":"mhAPP+ veh.","t":18,"v":91,"e":8},{"s":"mhAPP+ veh.","t":19,"v":93,"e":7},{"s":"mhAPP+ veh.","t":20,"v":86,"e":4},{"s":"mhAPP+ veh.","t":21,"v":97,"e":5},{"s":"mhAPP+ veh.","t":22,"v":97,"e":5},{"s":"mhAPP+ veh.","t":23,"v":97,"e":5},{"s":"mhAPP+ veh.","t":24,"v":96,"e":4},{"s":"mhAPP+ veh.","t":25,"v":101,"e":4},{"s":"mhAPP+ veh.","t":26,"v":101,"e":4},{"s":"mhAPP+ veh.","t":27,"v":99,"e":4},{"s":"mhAPP+ veh.","t":28,"v":102,"e":4},{"s":"mhAPP+ veh.","t":29,"v":102,"e":4},{"s":"mhAPP+ veh.","t":30,"v":101,"e":4},{"s":"mhAPP+ veh.","t":31,"v":100,"e":4},{"s":"mhAPP+ veh.","t":32,"v":98,"e":4},{"s":"mhAPP+ veh.","t":33,"v":96,"e":4},{"s":"mhAPP+ veh.","t":34,"v":96,"e":4},{"s":"mhAPP+ veh.","t":35,"v":96,"e":4},{"s":"mhAPP+ veh.","t":36,"v":96,"e":4},{"s":"mhAPP+ veh.","t":37,"v":96,"e":4},{"s":"mhAPP+ veh.","t":38,"v":96,"e":4},{"s":"mhAPP+ veh.","t":39,"v":96,"e":4},{"s":"mhAPP+ veh.","t":40,"v":97,"e":4},{"s":"mhAPP+ veh.","t":41,"v":95,"e":4},{"s":"mhAPP+ veh.","t":42,"v":96,"e":4},{"s":"mhAPP+ veh.","t":43,"v":97,"e":4},{"s":"mhAPP+ veh.","t":44,"v":96,"e":4},{"s":"mhAPP+ veh.","t":45,"v":95,"e":4},{"s":"mhAPP+ veh.","t":46,"v":97,"e":4},{"s":"mhAPP+ veh.","t":47,"v":97,"e":4},{"s":"mhAPP+ veh.","t":48,"v":97,"e":4},{"s":"mhAPP+ veh.","t":49,"v":97,"e":4},{"s":"mhAPP+ veh.","t":50,"v":97,"e":4},{"s":"mhAPP+ veh.","t":51,"v":96,"e":4},{"s":"mhAPP+ veh.","t":52,"v":100,"e":4},{"s":"mhAPP+ veh.","t":53,"v":98,"e":4},{"s":"mhAPP+ veh.","t":54,"v":97,"e":4},{"s":"mhAPP+ veh.","t":55,"v":95,"e":4}
]
},
"bounds":"flush",
"spacing":42.4,
"resolve":{"scale":{"x":"independent","y":"independent","shape":"independent","fill":"independent","stroke":"independent"},"legend":{"shape":"independent","fill":"independent","stroke":"independent"}},
"vconcat":[
{
 "width":291,"height":183,
 "title":{"text":"A","dx":-82,"dy":6},
 "data":{"name":"dA"},
 "encoding":{
  "x":{"field":"t","type":"quantitative","scale":{"domain":[0,55],"nice":false},"axis":{"title":"Time (min)","values":[0,5,10,15,20,25,30,35,40,45,50,55],"labelExpr":"datum.value % 10 === 0 ? datum.label : ''"}},
  "y":{"field":"v","type":"quantitative","scale":{"domain":[40,180],"nice":false},"axis":{"title":"Rel.Amp. (% of baseline)","values":[40,60,80,100,120,140,160,180]}}
 },
 "layer":[
  {"data":{"values":[{}]},"mark":{"type":"rule","strokeDash":[4,4],"color":"#000000","strokeWidth":1,"clip":false},"encoding":{"x":{"datum":-0.7},"x2":{"datum":56.9},"y":{"datum":100}}},
  {"mark":{"type":"errorbar","ticks":{"size":4},"color":"#444444","thickness":0.8},"encoding":{"yError":{"field":"e"}}},
  {"mark":{"type":"point","filled":true,"size":42,"strokeWidth":0.8,"opacity":1},
   "encoding":{
    "shape":{"field":"s","type":"nominal","scale":{"domain":["wt + veh.","wt + MW150","mhAPP+ veh.","mhAPP+ MW150"],"range":["circle","triangle-up","circle","diamond"]},"legend":{"title":null,"orient":"none","legendX":198.5,"legendY":131,"labelFontSize":11,"rowPadding":0.5}},
    "fill":{"field":"s","type":"nominal","scale":{"domain":["wt + veh.","wt + MW150","mhAPP+ veh.","mhAPP+ MW150"],"range":["#ffffff","#ffffff","#000000","#8c8c8c"]}},
    "stroke":{"field":"s","type":"nominal","scale":{"domain":["wt + veh.","wt + MW150","mhAPP+ veh.","mhAPP+ MW150"],"range":["#000000","#000000","#000000","#5a5a5a"]}}
   }},
  {"data":{"values":[{"t":15,"v":65,"w":80.5}]},"mark":{"type":"rule","color":"#000000","strokeWidth":1},"encoding":{"y2":{"field":"w"}}},
  {"data":{"values":[{"t":15,"v":80.5}]},"mark":{"type":"point","shape":"M-0.55,1L0,0L0.55,1","size":100,"filled":false,"stroke":"#000000","strokeWidth":1,"opacity":1}},
  {"data":{"values":[{"t":15,"v":60,"label":"HFS"}]},"mark":{"type":"text","font":"Lato","fontSize":12,"fontWeight":"bold","color":"#111111","align":"center","baseline":"middle"},"encoding":{"text":{"field":"label"}}}
 ]
},
{
 "width":291,"height":169,
 "title":{"text":"B","dx":-82,"dy":12},
 "data":{"name":"dB"},
 "encoding":{
  "x":{"field":"t","type":"quantitative","scale":{"domain":[0,55],"nice":false},"axis":{"title":"Time (min)","values":[0,5,10,15,20,25,30,35,40,45,50,55],"labelExpr":"datum.value % 10 === 0 ? datum.label : ''"}},
  "y":{"field":"v","type":"quantitative","scale":{"domain":[40,170],"nice":false},"axis":{"title":"Rel.Amp. (% of baseline)","values":[40,60,80,100,120,140,160]}}
 },
 "layer":[
  {"data":{"values":[{}]},"mark":{"type":"rule","strokeDash":[4,4],"color":"#000000","strokeWidth":1,"clip":false},"encoding":{"x":{"datum":-0.7},"x2":{"datum":56.9},"y":{"datum":100}}},
  {"mark":{"type":"errorbar","ticks":{"size":4},"color":"#444444","thickness":0.8},"encoding":{"yError":{"field":"e"}}},
  {"mark":{"type":"point","filled":true,"size":42,"strokeWidth":0.8,"opacity":1},
   "encoding":{
    "shape":{"field":"s","type":"nominal","scale":{"domain":["wt + MW150","wt + SB203580","mhAPP+ veh.","mhAPP+ MW150","mhAPP+ SB203580"],"range":["triangle-up","circle","circle","diamond","diamond"]},"legend":{"title":null,"orient":"none","legendX":196,"legendY":103.5,"labelFontSize":10,"rowPadding":2,"labelOffset":2}},
    "fill":{"field":"s","type":"nominal","scale":{"domain":["wt + MW150","wt + SB203580","mhAPP+ veh.","mhAPP+ MW150","mhAPP+ SB203580"],"range":["#ffffff","#ffffff","#000000","#8c8c8c","#3a3a3a"]}},
    "stroke":{"field":"s","type":"nominal","scale":{"domain":["wt + MW150","wt + SB203580","mhAPP+ veh.","mhAPP+ MW150","mhAPP+ SB203580"],"range":["#000000","#000000","#000000","#5a5a5a","#222222"]}}
   }},
  {"data":{"values":[{"t":15,"v":55,"w":71.4}]},"mark":{"type":"rule","color":"#666666","strokeWidth":1},"encoding":{"y2":{"field":"w"}}},
  {"data":{"values":[{"t":15,"v":71.4}]},"mark":{"type":"point","shape":"M-0.55,1L0,0L0.55,1","size":100,"filled":false,"stroke":"#666666","strokeWidth":1,"opacity":1}},
  {"data":{"values":[{"t":15,"v":45.8,"label":"HFS"}]},"mark":{"type":"text","font":"Lato","fontSize":12,"fontWeight":"bold","color":"#111111","align":"center","baseline":"middle"},"encoding":{"text":{"field":"label"}}}
 ]
},
{
 "width":291,"height":182,
 "title":{"text":"C","dx":-82,"dy":8},
 "data":{"name":"dC"},
 "encoding":{
  "x":{"field":"t","type":"quantitative","scale":{"domain":[0,55],"nice":false},"axis":{"title":"Time (min)","values":[0,5,10,15,20,25,30,35,40,45,50,55],"labelExpr":"datum.value % 10 === 0 ? datum.label : ''"}},
  "y":{"field":"v","type":"quantitative","scale":{"domain":[40,180],"nice":false},"axis":{"title":"Rel.Amp. (% of baseline)","values":[40,60,80,100,120,140,160,180]}}
 },
 "layer":[
  {"data":{"values":[{}]},"mark":{"type":"rule","strokeDash":[4,4],"color":"#000000","strokeWidth":1,"clip":false},"encoding":{"x":{"datum":-0.7},"x2":{"datum":56.9},"y":{"datum":100}}},
  {"mark":{"type":"errorbar","ticks":{"size":4},"color":"#444444","thickness":0.8},"encoding":{"yError":{"field":"e"}}},
  {"mark":{"type":"point","filled":true,"size":42,"strokeWidth":0.8,"opacity":1},
   "encoding":{
    "shape":{"field":"s","type":"nominal","scale":{"domain":["wt + veh.","wt + MW150","mhAPP+ veh.","mhAPP+ MW150"],"range":["circle","triangle-up","circle","diamond"]},"legend":{"title":null,"orient":"none","legendX":197.5,"legendY":125.5,"labelFontSize":11,"rowPadding":0.5,"labelOffset":4}},
    "fill":{"field":"s","type":"nominal","scale":{"domain":["wt + veh.","wt + MW150","mhAPP+ veh.","mhAPP+ MW150"],"range":["#ffffff","#ffffff","#000000","#8c8c8c"]}},
    "stroke":{"field":"s","type":"nominal","scale":{"domain":["wt + veh.","wt + MW150","mhAPP+ veh.","mhAPP+ MW150"],"range":["#000000","#000000","#000000","#5a5a5a"]}}
   }},
  {"data":{"values":[{"t":15,"v":52.9,"w":70.8}]},"mark":{"type":"rule","color":"#000000","strokeWidth":1},"encoding":{"y2":{"field":"w"}}},
  {"data":{"values":[{"t":15,"v":70.8}]},"mark":{"type":"point","shape":"M-0.55,1L0,0L0.55,1","size":100,"filled":false,"stroke":"#000000","strokeWidth":1,"opacity":1}},
  {"data":{"values":[{"t":15,"v":43.9,"label":"HFS"}]},"mark":{"type":"text","font":"Lato","fontSize":12,"fontWeight":"bold","color":"#111111","align":"center","baseline":"middle"},"encoding":{"text":{"field":"label"}}}
 ]
}
]
}
